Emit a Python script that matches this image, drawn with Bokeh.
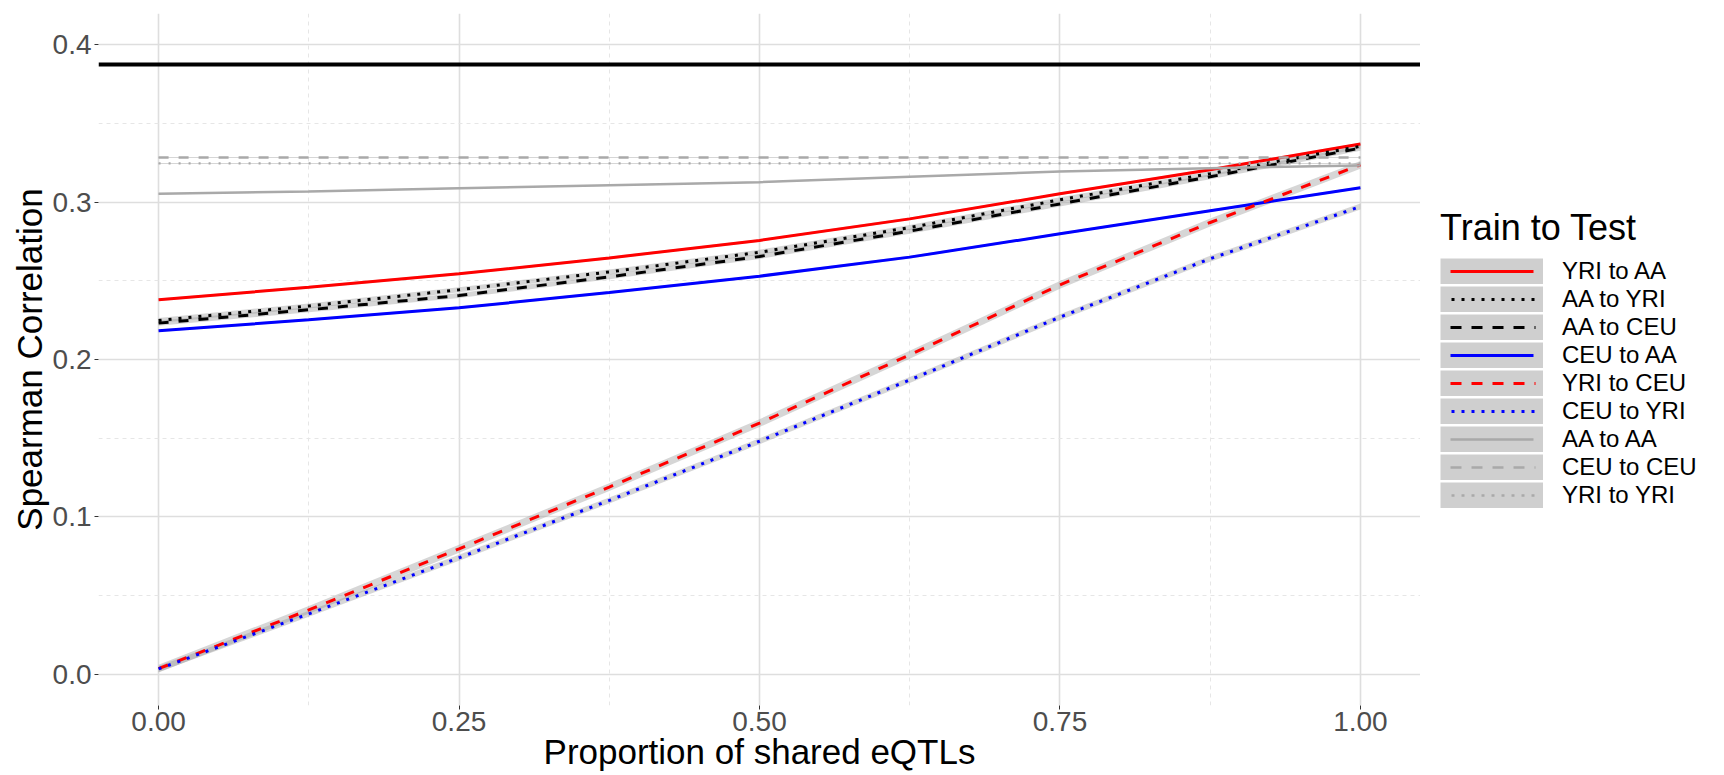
from bokeh.plotting import figure
from bokeh.layouts import row
from bokeh.models import (FixedTicker, Span, Legend, LegendItem, NumeralTickFormatter, Range1d)
from bokeh.embed import file_html
from bokeh.resources import INLINE

# ---------------- data ----------------
x_prop = [0.0, 0.125, 0.25, 0.375, 0.5, 0.625, 0.75, 0.875, 1.0]

yri_to_aa = [0.2379, 0.2459, 0.2544, 0.2645, 0.2756, 0.2893, 0.3052, 0.3205, 0.3369]
aa_to_yri = [0.2248, 0.2340, 0.2443, 0.2556, 0.2681, 0.2838, 0.3014, 0.3180, 0.3354]
aa_to_ceu = [0.2231, 0.2316, 0.2406, 0.2525, 0.2654, 0.2815, 0.2988, 0.3160, 0.3342]
ceu_to_aa = [0.2182, 0.2252, 0.2328, 0.2425, 0.2529, 0.2650, 0.2798, 0.2945, 0.3090]
yri_to_ceu = [0.0037, 0.0410, 0.0798, 0.1190, 0.1596, 0.2030, 0.2474, 0.2870, 0.3236]
ceu_to_yri = [0.0035, 0.0385, 0.0741, 0.1105, 0.1481, 0.1870, 0.2269, 0.2640, 0.2971]
aa_to_aa = [0.3052, 0.3067, 0.3088, 0.3106, 0.3126, 0.3160, 0.3194, 0.3215, 0.3232]
ceu_to_ceu = [0.3283, 0.3283, 0.3283, 0.3283, 0.3283, 0.3283, 0.3283, 0.3283, 0.3283]
yri_to_yri = [0.3245, 0.3245, 0.3245, 0.3245, 0.3245, 0.3245, 0.3245, 0.3245, 0.3245]

# half-widths of the confidence ribbons
se_yri_to_aa = 0.0008
se_aa_to_yri = 0.0016
se_aa_to_ceu = 0.0016
se_ceu_to_aa = 0.0008
se_yri_to_ceu = 0.0025
se_ceu_to_yri = 0.0019
se_aa_to_aa = 0.0004
se_ceu_to_ceu = 0.0003
se_yri_to_yri = 0.0003

reference_level = 0.3873

labels = ["YRI to AA", "AA to YRI", "AA to CEU", "CEU to AA", "YRI to CEU",
          "CEU to YRI", "AA to AA", "CEU to CEU", "YRI to YRI"]
values = [yri_to_aa, aa_to_yri, aa_to_ceu, ceu_to_aa, yri_to_ceu,
          ceu_to_yri, aa_to_aa, ceu_to_ceu, yri_to_yri]
ses = [se_yri_to_aa, se_aa_to_yri, se_aa_to_ceu, se_ceu_to_aa, se_yri_to_ceu,
       se_ceu_to_yri, se_aa_to_aa, se_ceu_to_ceu, se_yri_to_yri]

x_ticks = [0.0, 0.25, 0.5, 0.75, 1.0]
x_minor = [0.125, 0.375, 0.625, 0.875]
y_ticks = [0.0, 0.1, 0.2, 0.3, 0.4]
y_minor = [0.05, 0.15, 0.25, 0.35]

# ---------------- styles ----------------
colors = ["#FF0000", "#000000", "#000000", "#0000FF", "#FF0000",
          "#0000FF", "#A9A9A9", "#A9A9A9", "#A9A9A9"]
kinds = ["solid", "dotted", "dashed", "solid", "dashed", "dotted", "solid", "dashed", "dotted"]
widths = [3, 3, 3, 3, 3, 3, 2.5, 2.5, 2.3]
plot_dash = {"solid": "solid", "dotted": "3 7", "dashed": "10 10"}
# legend keys: pattern inset ~10px inside the grey key box
legend_dash = {"solid": "0 10 83 100",
               "dotted": "0 11" + " 3 7" * 8 + " 3 100",
               "dashed": "0 10" + " 11 10" * 4 + " 1 100"}
gray_dotted = "2 8"

FONT = "Liberation Sans"

p = figure(width=1420, height=775, output_backend="svg", toolbar_location=None,
           x_range=Range1d(-0.05, 1.05), y_range=Range1d(-0.0197, 0.4197),
           min_border_left=98, min_border_right=0, min_border_top=13,
           min_border_bottom=70)
p.outline_line_color = None
p.background_fill_color = "white"

for vals, se in zip(values, ses):
    lo = [v - se for v in vals]
    hi = [v + se for v in vals]
    p.varea(x=x_prop, y1=lo, y2=hi, fill_color="#999999", fill_alpha=0.4)
for i, (vals, c, k, w) in enumerate(zip(values, colors, kinds, widths)):
    d = plot_dash[k]
    if c == "#A9A9A9" and k == "dotted":
        d = gray_dotted
    p.line(x=x_prop, y=vals, line_color=c, line_dash=d, line_width=w)

p.add_layout(Span(location=reference_level, dimension="width", line_color="black",
                  line_width=4))

# axes
p.xaxis.ticker = FixedTicker(ticks=x_ticks, minor_ticks=x_minor)
p.yaxis.ticker = FixedTicker(ticks=y_ticks, minor_ticks=y_minor)
p.xaxis.formatter = NumeralTickFormatter(format="0.00")
p.yaxis.formatter = NumeralTickFormatter(format="0.0")
for ax in (p.xaxis, p.yaxis):
    ax.axis_line_color = None
    ax.major_tick_line_color = "#333333"
    ax.major_tick_line_width = 1
    ax.major_tick_out = 4
    ax.major_tick_in = 0
    ax.minor_tick_line_color = None
    ax.major_label_text_font = FONT
    ax.major_label_text_font_size = "28px"
    ax.major_label_text_color = "#4D4D4D"
    ax.axis_label_text_font = FONT
    ax.axis_label_text_font_size = "35px"
    ax.axis_label_text_font_style = "normal"
    ax.axis_label_text_color = "black"
p.xaxis.axis_label = "Proportion of shared eQTLs"
p.yaxis.axis_label = "Spearman Correlation"
p.xaxis.major_label_standoff = 2
p.yaxis.major_label_standoff = 3
p.xaxis.axis_label_standoff = -2
p.yaxis.axis_label_standoff = 1

for g in (p.xgrid, p.ygrid):
    g.grid_line_color = "#DEDEDE"
    g.grid_line_width = 1.6
    g.minor_grid_line_color = "#E6E6E6"
    g.minor_grid_line_width = 1
    g.minor_grid_line_dash = "4 4"

# ---------------- legend panel ----------------
# proxy renderers (outside this panel's visible range) that only feed the legend keys
leg = figure(width=304, height=775, output_backend="svg", toolbar_location=None,
             x_range=Range1d(5, 6), y_range=Range1d(5, 6),
             x_axis_type=None, y_axis_type=None,
             min_border_left=0, min_border_right=0, min_border_top=13,
             min_border_bottom=70)
leg.outline_line_color = None
leg.xgrid.visible = False
leg.ygrid.visible = False

items = []
for lab, vals, c, k, w in zip(labels, values, colors, kinds, widths):
    box = leg.line(x=x_prop, y=vals, line_color="#CFCFCF", line_width=26, line_cap="butt")
    d = legend_dash[k]
    ln = leg.line(x=x_prop, y=vals, line_color=c, line_width=w, line_dash=d)
    items.append(LegendItem(label=lab, renderers=[box, ln]))

legend = Legend(items=items, location=(20, 196), title="Train to Test",
                title_text_font=FONT, title_text_font_size="36px",
                title_text_font_style="normal", title_text_color="black",
                title_standoff=8,
                label_text_font=FONT, label_text_font_size="24px",
                label_text_color="black",
                glyph_width=103, glyph_height=26, label_height=26, spacing=0,
                label_standoff=19, padding=0, margin=0,
                border_line_color=None, background_fill_alpha=0)
leg.add_layout(legend)

layout = row(p, leg)
open("out.html", "w").write(file_html(layout, INLINE))
